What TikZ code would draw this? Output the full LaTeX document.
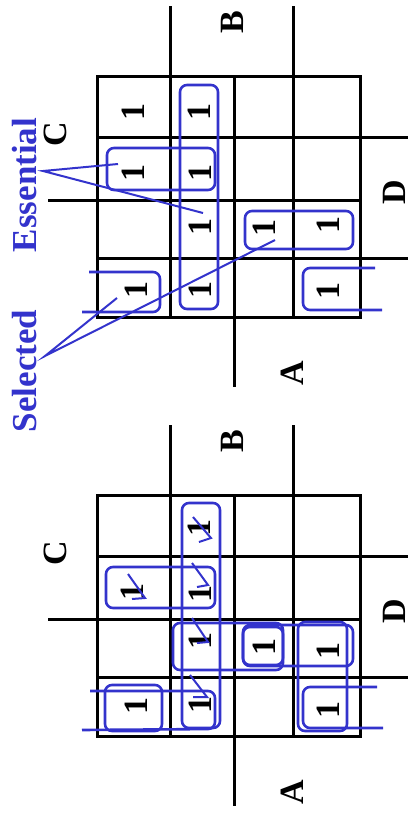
\documentclass[tikz,border=0pt]{standalone}
\usepackage{fontspec}
\setmainfont{Liberation Serif}
\definecolor{kblue}{RGB}{51,51,204}

\begin{document}
\begin{tikzpicture}[x=1pt,y=-1pt,line width=3pt,
    varlab/.style={font=\fontsize{34}{34}\selectfont\bfseries,rotate=90,inner sep=0pt},
    one/.style={font=\fontsize{34}{34}\selectfont\bfseries,rotate=90,inner sep=0pt},
    grp/.style={draw=kblue,line width=2.6pt,rounded corners=7pt},
    chk/.style={draw=kblue,line width=2pt},
    tag/.style={text=kblue,font=\fontsize{35}{35}\selectfont\bfseries,rotate=90,inner sep=0pt}]
  \useasboundingbox (0,0) rectangle (413,820);
  \foreach \o/\m in {0/t,419/b}
  {
    \draw (97.7,76.7+\o) rectangle (360,317.7+\o);
    \draw (170,6+\o) -- (170,317.7+\o);
    \draw (293.3,6+\o) -- (293.3,317.7+\o);
    \draw (234.3,76.7+\o) -- (234.3,387+\o);
    \draw (48,200+\o) -- (360,200+\o);
    \draw (97.7,137.3+\o) -- (408,137.3+\o);
    \draw (97.7,258.3+\o) -- (408,258.3+\o);
    \node[varlab] (B\m) at (232,22+\o) {B};
    \node[varlab] (C\m) at (55,134+\o) {C};
    \node[varlab] (D\m) at (394,192+\o) {D};
    \node[varlab] (A\m) at (292,373+\o) {A};
  }
  \foreach \x/\y [count=\i] in {133/112,199/112,133/173,200/173,200/227,
      264/228,328/225,136/290,200/290,328/291}
    \node[one] (t\i) at (\x,\y) {1};
  \foreach \x/\y [count=\i] in {199/528,132/592,200/594,200/641,264/647,
      328/651,136/706,200/705,328/710}
    \node[one] (b\i) at (\x,\y) {1};

  \draw[grp] (180,85) rectangle (218,309);
  \draw[grp] (107,148) rectangle (215,190);
  \draw[grp] (245,211) rectangle (353,249);
  \draw[grp] (89,272) -- (160,272) -- (160,312) -- (82,312);
  \draw[grp] (375,268) -- (303,268) -- (303,310) -- (382,310);

  \node[tag] (ess) at (25,185) {Essential};
  \node[tag] (sel) at (25,371) {Selected};
  \coordinate (essTip) at (43,171);
  \coordinate (selTip) at (45,356);
  \coordinate (essA) at (118,164);
  \coordinate (essB) at (203,213);
  \coordinate (selA) at (117,298);
  \coordinate (selB) at (275,240);
  \draw[chk] (essA) -- (essTip) -- (essB);
  \draw[chk] (selA) -- (selTip) -- (selB);

  \draw[grp] (182,503) rectangle (220,728);
  \draw[grp] (106,567) rectangle (215,608);
  \draw[grp] (173,623) rectangle (283,670);
  \draw[grp] (243,627) rectangle (283,665);
  \draw[grp] (243,625) rectangle (353,666);
  \draw[grp] (298,622) rectangle (347,731);
  \draw[grp] (105,685) rectangle (162,731);
  \draw[grp] (90,691) -- (215,691) -- (215,729) -- (82,730);
  \draw[grp] (377,687) -- (303,687) -- (303,728) -- (383,728);

  \foreach \p in {{(193,517) -- (211,538) -- (199,542)},
      {(128,574) -- (145,598) -- (132,599)},
      {(192,563) -- (208,585) -- (197,587)},
      {(192,618) -- (208,642) -- (197,643)},
      {(190,675) -- (207,697) -- (193,697)}}
    \draw[chk] \p;
\end{tikzpicture}
\end{document}
